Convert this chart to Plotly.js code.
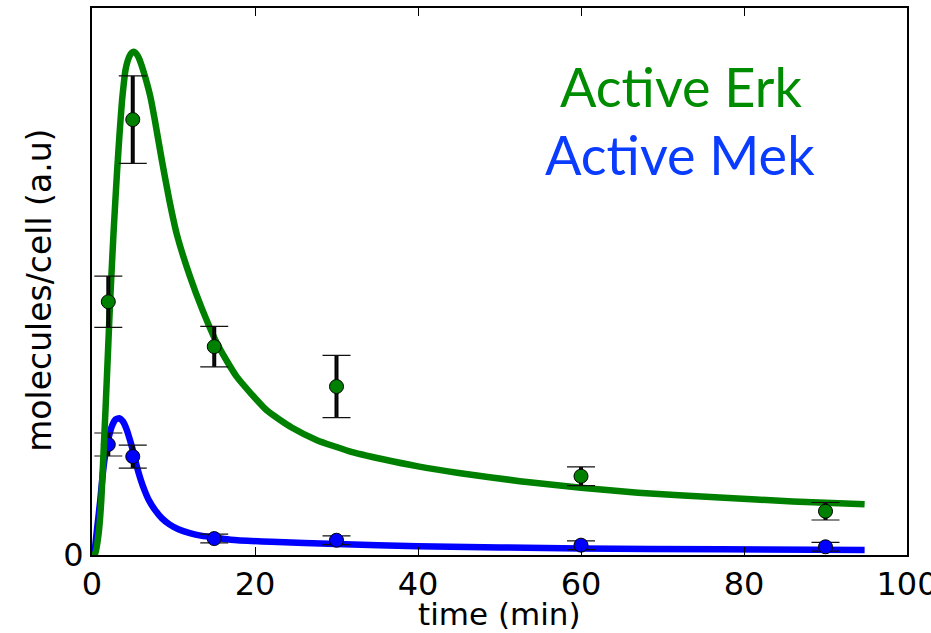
<!DOCTYPE html>
<html>
<head>
<meta charset="utf-8">
<script src="https://cdn.plot.ly/plotly-3.0.1.min.js"></script>
<style>html,body{margin:0;padding:0;background:#fff;}</style>
</head>
<body>
<div id="chart" style="width:931px;height:633px;"></div>
<script>
// Measured data (time in min, molecules/cell in arbitrary units)
const erkTime = [2, 5, 15, 30, 60, 90];
const erkValue = [4.63, 7.96, 3.81, 3.08, 1.44, 0.80];
const erkError = [0.47, 0.80, 0.37, 0.57, 0.17, 0.16];

const mekTime = [2, 5, 15, 30, 60, 90];
const mekValue = [2.02, 1.80, 0.30, 0.27, 0.18, 0.15];
const mekError = [0.21, 0.21, 0.08, 0.08, 0.08, 0.08];

// Model curves
const erkFitTime = [0, 0.4, 0.82, 1.14, 1.43, 1.64, 2.0, 2.25, 2.66, 3.07, 3.38, 3.68, 3.9, 4.09, 4.35, 4.6, 4.85, 5.12, 5.35, 5.6, 5.85, 6.13, 6.6, 7.16, 7.7, 8.59, 9.5, 10.43, 12, 13.5, 15.5, 17.75, 21.4, 24.5, 27.6, 31.5, 35.7, 40, 45, 52.5, 60, 67, 77, 86, 94.8];
const erkFitValue = [0, 0.03, 0.40, 1.0, 1.92, 2.6, 3.85, 4.72, 5.94, 7.0, 7.7, 8.3, 8.62, 8.85, 9.02, 9.12, 9.18, 9.20, 9.18, 9.13, 9.05, 8.93, 8.7, 8.38, 7.96, 7.2, 6.48, 5.85, 5.1, 4.5, 3.82, 3.26, 2.65, 2.33, 2.10, 1.90, 1.75, 1.62, 1.50, 1.35, 1.23, 1.14, 1.05, 0.98, 0.93];

const mekFitTime = [0, 0.2, 0.6, 1.02, 1.3, 1.64, 2.0, 2.45, 2.9, 3.35, 3.8, 4.29, 4.7, 5.11, 5.5, 5.93, 6.4, 6.95, 7.7, 8.59, 9.5, 10.6, 12, 13.5, 15.5, 17, 22, 30, 40, 60, 77, 94.8];
const mekFitValue = [0, 0, 0.45, 1.01, 1.45, 1.85, 2.12, 2.36, 2.48, 2.50, 2.44, 2.28, 2.08, 1.86, 1.62, 1.40, 1.2, 1.01, 0.83, 0.67, 0.56, 0.47, 0.40, 0.35, 0.31, 0.28, 0.24, 0.20, 0.16, 0.12, 0.105, 0.09];

const xTicks = [0, 20, 40, 60, 80, 100];
const yTicks = [0];

const GREEN = '#008000';
const BLUE = '#0000ff';

function errThick(x, y, e) {
  return {x: x, y: y, type: 'scatter', mode: 'markers', hoverinfo: 'skip',
    marker: {size: 1, color: 'rgba(0,0,0,0)'},
    error_y: {type: 'data', array: e, visible: true, color: '#000', thickness: 4, width: 0},
    showlegend: false};
}
function errCaps(x, y, e, col) {
  return {x: x, y: y, type: 'scatter', mode: 'markers',
    marker: {size: 14, color: col, line: {color: '#000', width: 1}},
    error_y: {type: 'data', array: e, visible: true, color: '#111', thickness: 1.2, width: 14},
    showlegend: false};
}

const data = [
  {x: mekFitTime, y: mekFitValue, type: 'scatter', mode: 'lines', line: {color: BLUE, width: 6.5, shape: 'spline', smoothing: 0.5}, showlegend: false},
  errThick(mekTime, mekValue, mekError),
  errCaps(mekTime, mekValue, mekError, BLUE),
  {x: erkFitTime, y: erkFitValue, type: 'scatter', mode: 'lines', line: {color: GREEN, width: 6.5, shape: 'spline', smoothing: 0.5}, showlegend: false},
  errThick(erkTime, erkValue, erkError),
  errCaps(erkTime, erkValue, erkError, GREEN)
];

const tickFont = {family: 'DejaVu Sans, sans-serif', size: 32, color: '#000'};
const titleFont = {family: 'DejaVu Sans, sans-serif', size: 31, color: '#000'};

const layout = {
  width: 931, height: 633,
  margin: {l: 92, r: 24, t: 8, b: 78},
  paper_bgcolor: '#fff', plot_bgcolor: '#fff',
  showlegend: false,
  xaxis: {
    range: [0, 100], tickvals: xTicks, ticktext: xTicks.map(String),
    ticks: 'inside', ticklen: 8, tickwidth: 1, tickcolor: '#000',
    showline: true, linewidth: 2, linecolor: '#000', mirror: 'ticks',
    showgrid: false, zeroline: false, ticklabeloverflow: 'allow',
    tickfont: tickFont
  },
  yaxis: {
    range: [0, 10], tickvals: yTicks, ticktext: ['0'],
    ticks: 'inside', ticklen: 8, tickwidth: 1, tickcolor: '#000',
    showline: true, linewidth: 2, linecolor: '#000', mirror: 'ticks',
    showgrid: false, zeroline: false,
    tickfont: tickFont
  },
  annotations: [
    {text: 'time (min)', xref: 'paper', yref: 'paper', x: 0.5, y: -0.108, xanchor: 'center', yanchor: 'middle',
     showarrow: false, font: titleFont},
    {text: 'molecules/cell (a.u)', xref: 'paper', yref: 'paper', x: -0.064, y: 0.4845, xanchor: 'center', yanchor: 'middle',
     textangle: -90, showarrow: false, font: {family: 'DejaVu Sans, sans-serif', size: 33, color: '#000'}},
    {text: 'Active Erk', xref: 'paper', yref: 'paper', x: 0.723, y: 0.856, xanchor: 'center', yanchor: 'middle',
     showarrow: false, font: {family: 'Lato, sans-serif', size: 54, color: '#008c00'}},
    {text: 'Active Mek', xref: 'paper', yref: 'paper', x: 0.722, y: 0.733, xanchor: 'center', yanchor: 'middle',
     showarrow: false, font: {family: 'Lato, sans-serif', size: 54, color: '#0a3cff'}}
  ]
};

Plotly.newPlot('chart', data, layout, {displayModeBar: false, staticPlot: true});
</script>
</body>
</html>
